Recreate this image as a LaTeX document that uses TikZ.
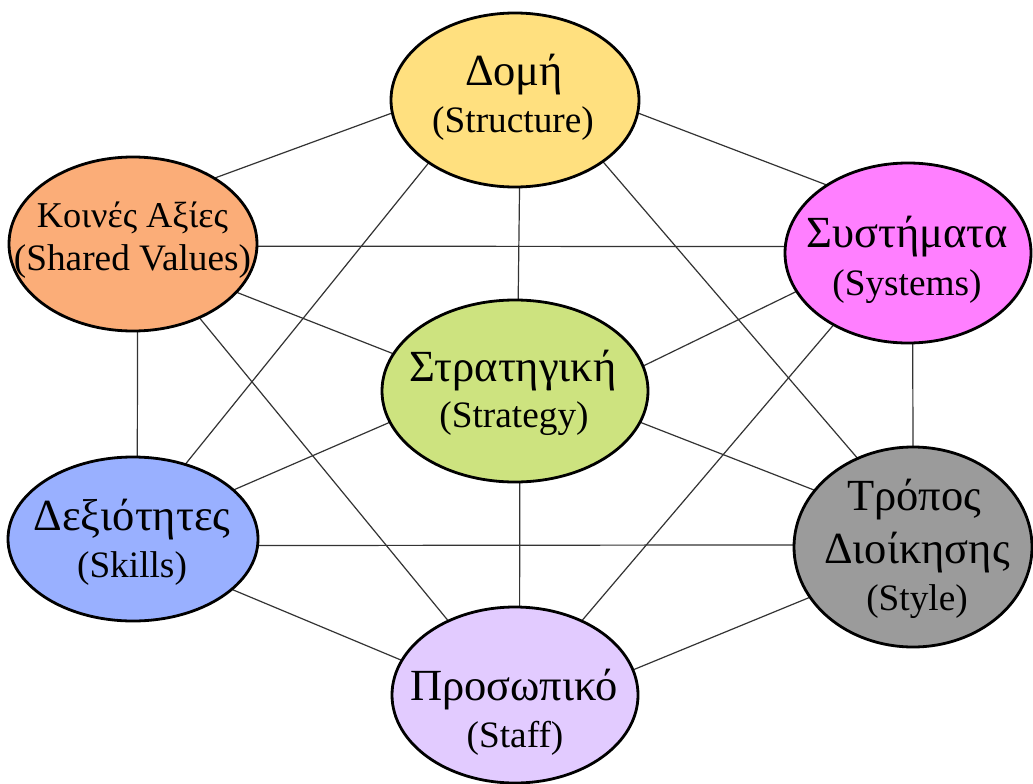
\documentclass[tikz,border=0pt]{standalone}
\usepackage{fontspec}
\setmainfont{Liberation Serif}
\usetikzlibrary{shapes.geometric,backgrounds}
\definecolor{cStruct}{HTML}{FFE07F}
\definecolor{cValues}{HTML}{FBAD78}
\definecolor{cSystems}{HTML}{FF7FFF}
\definecolor{cStrategy}{HTML}{CDE37F}
\definecolor{cSkills}{HTML}{99B0FF}
\definecolor{cStyle}{HTML}{9B9B9B}
\definecolor{cStaff}{HTML}{E2CBFF}
\begin{document}
\begin{tikzpicture}[x=1pt,y=-1pt,
  oval/.style={ellipse, draw=black, line width=2.8pt, inner sep=0pt, outer sep=0pt},
  link/.style={draw=black!80, line width=1.2pt},
  gr/.style={anchor=base, inner sep=0pt, font=\fontsize{44.5}{52}\selectfont},
  grs/.style={anchor=base, inner sep=0pt, font=\fontsize{36.3}{43}\selectfont},
  en/.style={anchor=base, inner sep=0pt, font=\fontsize{37.3}{44}\selectfont}]
\useasboundingbox (0,0) rectangle (1033,784);

\node[oval, fill=cStruct,   minimum width=248, minimum height=174] (struct)   at (515,100) {};
\node[oval, fill=cValues,   minimum width=248, minimum height=174] (values)   at (133,244) {};
\node[oval, fill=cSystems,  minimum width=246, minimum height=180] (systems)  at (908,253) {};
\node[oval, fill=cStrategy, minimum width=266, minimum height=182] (strategy) at (515,391) {};
\node[oval, fill=cSkills,   minimum width=250, minimum height=164] (skills)   at (133,539) {};
\node[oval, fill=cStyle,    minimum width=238, minimum height=200] (style)    at (913,547) {};
\node[oval, fill=cStaff,    minimum width=246, minimum height=176] (staff)    at (515,695) {};

\node[gr] (structG) at (514,85) {Δομή};
\node[en] (structE) at (513,132) {(Structure)};
\node[grs] (valuesG) at (132.5,227) {Κοινές Αξίες};
\node[en] (valuesE) at (132.5,270) {(Shared Values)};
\node[gr] (systemsG) at (907,247) {Συστήματα};
\node[en] (systemsE) at (907,295) {(Systems)};
\node[gr] (strategyG) at (513,381) {Στρατηγική};
\node[en] (strategyE) at (514,427) {(Strategy)};
\node[gr] (skillsG) at (132,530) {Δεξιότητες};
\node[en] (skillsE) at (132,577) {(Skills)};
\node[gr] (styleG1) at (914,510) {Τρόπος};
\node[gr] (styleG2) at (917,563) {Διοίκησης};
\node[en] (styleE) at (917,610) {(Style)};
\node[gr] (staffG) at (514,700) {Προσωπικό};
\node[en] (staffE) at (515,747) {(Staff)};

\begin{scope}[on background layer]
\fill[white] (0,0) rectangle (1033,784);
\draw[link] (struct.186) -- (values.39);
\draw[link] (struct.354) -- (systems.140);
\draw[link] (struct.273) -- (strategy.88);
\draw[link] (struct.216) -- (skills.55);
\draw[link] (struct.325) -- (style.122);
\draw[link] (values.359) -- (systems.177);
\draw[link] (values.335) -- (strategy.163);
\draw[link] (values.273) -- (skills.87);
\draw[link] (values.312) -- (staff.132);
\draw[link] (systems.199) -- (strategy.11);
\draw[link] (systems.224) -- (staff.48);
\draw[link] (systems.273) -- (style.90);
\draw[link] (strategy.194) -- (skills.26);
\draw[link] (strategy.346) -- (style.150);
\draw[link] (strategy.273) -- (staff.87);
\draw[link] (skills.357) -- (style.179);
\draw[link] (skills.333) -- (staff.163);
\draw[link] (style.206) -- (staff.12);
\end{scope}
\end{tikzpicture}
\end{document}
